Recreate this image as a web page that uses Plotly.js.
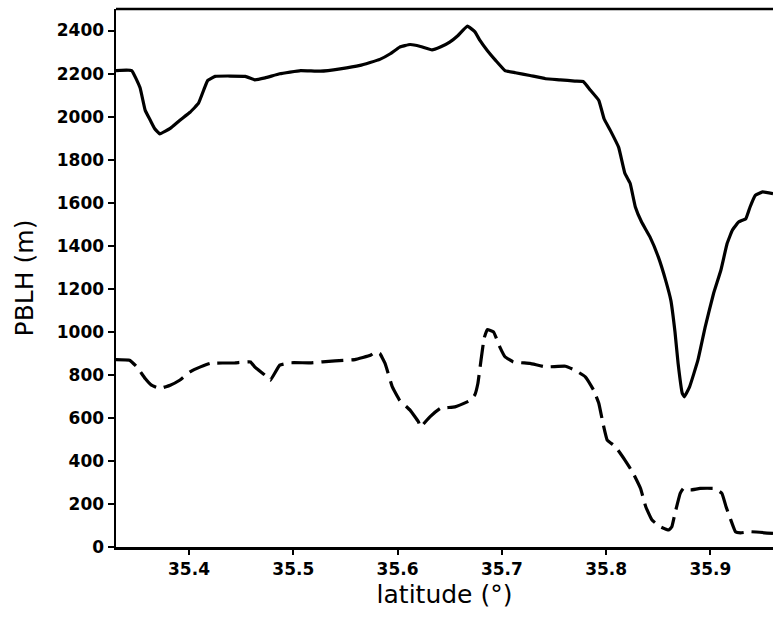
<!DOCTYPE html>
<html>
<head>
<meta charset="utf-8">
<script src="https://cdn.plot.ly/plotly-3.0.1.min.js"></script>
<style>html,body{margin:0;padding:0;background:#fff;overflow:hidden;}</style>
</head>
<body>
<div id="chart" style="width:773px;height:617px;"></div>
<script>
// Solid line (upper curve)
const latSolid = [35.330,35.345,35.353,35.358,35.363,35.367,35.372,35.382,35.391,35.401,35.409,35.415,35.418,35.425,35.454,35.463,35.473,35.487,35.507,35.526,35.545,35.564,35.583,35.593,35.602,35.612,35.622,35.633,35.641,35.650,35.658,35.667,35.674,35.679,35.686,35.694,35.703,35.713,35.727,35.742,35.756,35.770,35.778,35.785,35.793,35.798,35.804,35.812,35.818,35.823,35.828,35.834,35.842,35.850,35.857,35.862,35.866,35.869,35.873,35.875,35.880,35.888,35.895,35.903,35.910,35.916,35.921,35.927,35.934,35.938,35.943,35.950,35.960];
const pblhSolid = [2214,2214,2135,2029,1982,1945,1920,1945,1982,2020,2061,2135,2168,2187,2187,2171,2180,2199,2214,2211,2222,2238,2266,2292,2323,2335,2326,2310,2323,2346,2377,2420,2395,2354,2307,2261,2214,2204,2191,2176,2171,2165,2163,2122,2075,1990,1936,1857,1736,1690,1580,1510,1441,1348,1240,1147,1000,853,714,698,744,868,1023,1178,1286,1410,1472,1510,1526,1580,1634,1650,1642];

// Dashed line (lower curve)
const latDash = [35.330,35.343,35.350,35.358,35.364,35.372,35.382,35.391,35.401,35.411,35.420,35.444,35.459,35.463,35.473,35.478,35.487,35.497,35.516,35.540,35.559,35.574,35.579,35.583,35.588,35.595,35.602,35.612,35.620,35.622,35.631,35.641,35.655,35.670,35.674,35.677,35.680,35.683,35.686,35.692,35.698,35.703,35.711,35.727,35.742,35.761,35.770,35.780,35.788,35.793,35.797,35.801,35.809,35.818,35.826,35.833,35.838,35.844,35.852,35.860,35.863,35.866,35.871,35.874,35.881,35.890,35.904,35.911,35.915,35.919,35.924,35.929,35.938,35.960];
const pblhDash = [871,868,837,783,752,737,752,775,814,837,853,856,860,837,798,775,845,856,856,865,871,891,907,899,853,744,682,636,582,558,605,644,651,682,706,760,868,970,1010,1000,930,884,860,853,837,840,822,791,729,667,574,497,466,404,342,272,187,125,94,79,94,156,249,272,265,272,272,249,187,133,71,66,71,63];

const xTicks = [35.4,35.5,35.6,35.7,35.8,35.9];
const yTicks = [0,200,400,600,800,1000,1200,1400,1600,1800,2000,2200,2400];
const xTitle = "latitude (°)";
const yTitle = "PBLH (m)";

const traces = [
  {x: latSolid, y: pblhSolid, type: 'scatter', mode: 'lines',
   line: {color: '#000', width: 3.2, shape: 'spline', smoothing: 0.3}, showlegend: false, hoverinfo: 'skip'},
  {x: latDash, y: pblhDash, type: 'scatter', mode: 'lines',
   line: {color: '#000', width: 3.2, dash: '22px,8px', shape: 'spline', smoothing: 0.3}, showlegend: false, hoverinfo: 'skip'}
];

const tickFont = {family: 'DejaVu Sans', size: 17, color: '#000', weight: 'bold'};
const titleFont = {family: 'DejaVu Sans', size: 25, color: '#000'};

const layout = {
  width: 773, height: 617,
  margin: {l: 116, r: 0, t: 9, b: 70, pad: 0},
  paper_bgcolor: '#fff', plot_bgcolor: '#fff',
  showlegend: false,
  xaxis: {
    range: [35.330, 35.960], tickvals: xTicks, ticktext: xTicks.map(v => v.toFixed(1)),
    showgrid: false, zeroline: false, showline: true, linecolor: '#000', linewidth: 2.5,
    ticks: 'outside', ticklen: 5, tickwidth: 2, tickcolor: '#000',
    tickfont: tickFont,
    title: {text: xTitle, font: titleFont, standoff: 8},
    automargin: false
  },
  yaxis: {
    range: [0, 2500], tickvals: yTicks, ticktext: yTicks.map(String),
    showgrid: false, zeroline: false, showline: true, linecolor: '#000', linewidth: 2.5,
    ticks: 'outside', ticklen: 6, tickwidth: 2, tickcolor: '#000',
    tickfont: tickFont,
    title: {text: yTitle, font: titleFont, standoff: 16},
    automargin: false
  },
  shapes: [
    {type: 'line', xref: 'paper', yref: 'paper', x0: 0, x1: 1, y0: 1, y1: 1, line: {color: '#000', width: 2.5}}
  ]
};

Plotly.newPlot('chart', traces, layout, {displayModeBar: false, staticPlot: true});
</script>
</body>
</html>
